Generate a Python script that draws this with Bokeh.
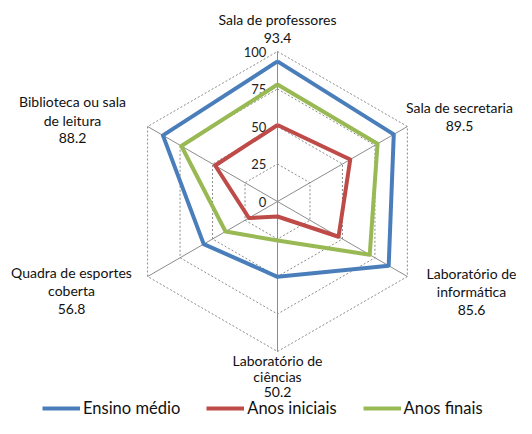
import numpy as np
from bokeh.plotting import figure
from bokeh.models import Range1d, Legend, LegendItem
from bokeh.core.properties import value
from bokeh.embed import file_html
from bokeh.resources import INLINE

# ---------------- data ----------------
categories = [
    "Sala de professores",
    "Sala de secretaria",
    "Laboratório de\ninformática",
    "Laboratório de\nciências",
    "Quadra de esportes\ncoberta",
    "Biblioteca ou sala\nde leitura",
]
ensino_medio = [93.4, 89.5, 85.6, 50.2, 56.8, 88.2]
anos_iniciais = [51, 56, 47, 10, 22, 48]
anos_finais = [78, 77, 71, 26, 40, 74]
series_names = ["Ensino médio", "Anos iniciais", "Anos finais"]
ticks = [0, 25, 50, 75, 100]

# ---------------- layout / style ----------------
FONT = "Lato"
W, H = 516, 418
S = 1.5              # pixels per data unit
CX, CY = 277, 201    # pixel position of the centre inside the figure
colors = ["#4A7EBB", "#BE4B48", "#98B954"]
grid_color = "#8C8C8C"
# label block centres (px), line spacing
label_pos = [(277, 28), (459, 116.5), (471, 291), (277, 375.5), (71, 290), (72, 119.5)]
line_h = [18.3, 18.3, 18.3, 15.5, 18.3, 18.3]

def dx(px):
    return (px - CX) / S

def dy(py):
    return (CY - py) / S

p = figure(width=W, height=H, output_backend="svg", toolbar_location=None,
           x_range=Range1d(dx(0), dx(W)), y_range=Range1d(dy(H), dy(0)),
           min_border=0)
p.axis.visible = False
p.grid.visible = False
p.outline_line_color = None
p.background_fill_color = "white"

n = len(categories)
angles = np.radians(90 - 60 * np.arange(n))

# spokes
for a in angles:
    p.line([0, 100 * np.cos(a)], [0, 100 * np.sin(a)], line_color=grid_color, line_width=1)

# dotted rings
for t in ticks[1:]:
    xs = list(t * np.cos(angles)) + [t * np.cos(angles[0])]
    ys = list(t * np.sin(angles)) + [t * np.sin(angles[0])]
    p.line(xs, ys, line_color=grid_color, line_width=1, line_dash="2 2")

# tick labels
p.text(x=[-7.5] * len(ticks), y=ticks, text=[str(t) for t in ticks],
       text_align="right", text_baseline="middle", text_font=value(FONT),
       text_font_size="13px", text_color="#222222")

# series
renderers = []
for vals, col in zip([ensino_medio, anos_iniciais, anos_finais], colors):
    v = np.array(vals + [vals[0]], dtype=float)
    a = np.append(angles, angles[0])
    r = p.line(v * np.cos(a), v * np.sin(a), line_color=col, line_width=4,
               line_join="round")
    renderers.append(r)

# category labels with Ensino médio value
lx, ly, lt = [], [], []
for cat, val, (px, py), lh in zip(categories, ensino_medio, label_pos, line_h):
    lines = cat.split("\n") + [f"{val:.1f}"]
    m = len(lines)
    for i, line in enumerate(lines):
        lx.append(dx(px))
        ly.append(dy(py + (i - (m - 1) / 2) * lh))
        lt.append(line)
p.text(x=lx, y=ly, text=lt, text_align="center", text_baseline="middle",
       text_font=value(FONT), text_font_size="14px", text_color="#111111")

legend = Legend(items=[LegendItem(label=nm, renderers=[r]) for nm, r in zip(series_names, renderers)],
                orientation="horizontal", location=(42, 0), glyph_width=38, glyph_height=14,
                label_standoff=3, spacing=26, padding=0, margin=0,
                border_line_color=None, background_fill_alpha=0,
                label_text_font=FONT, label_text_font_size="16.5px", label_text_color="#111111",
                label_text_baseline="middle", label_height=14)
p.add_layout(legend, "center")

open("out.html", "w").write(file_html(p, INLINE))
